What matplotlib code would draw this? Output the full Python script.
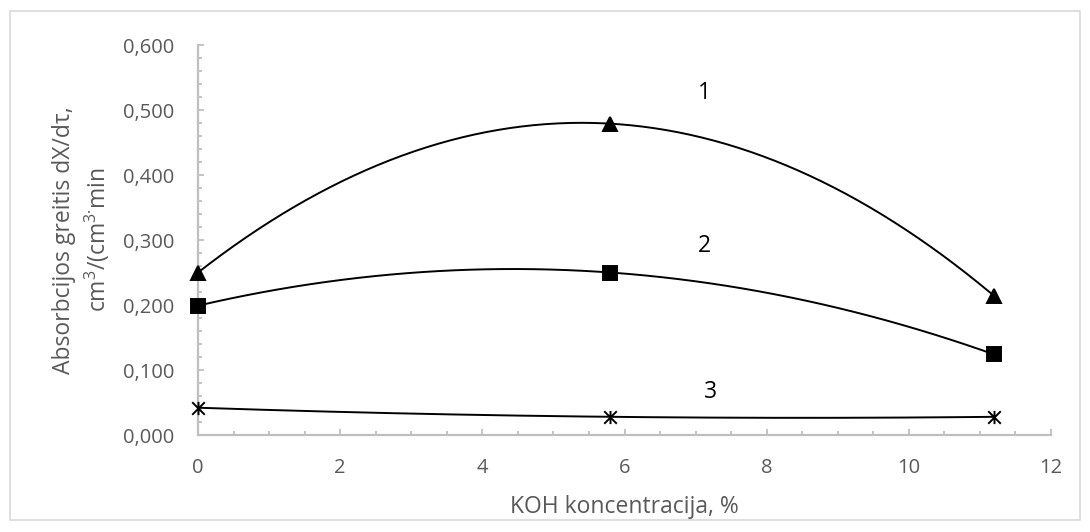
import numpy as np
import matplotlib
matplotlib.use("Agg")
import matplotlib.pyplot as plt
from matplotlib.path import Path
from matplotlib.patches import Rectangle
from matplotlib.ticker import MultipleLocator, FuncFormatter

# KOH concentration, %
koh = [0.0, 5.8, 11.2]
# absorption rate dX/dtau per curve
rate_1 = [0.250, 0.479, 0.214]
rate_2 = [0.199, 0.250, 0.124]
rate_3 = [0.042, 0.028, 0.028]
curve_names = ["1", "2", "3"]
name_pos = [(7.12, 0.526), (7.12, 0.291), (7.21, 0.066)]

GREY = "#595959"
AXIS = "#bfbfbf"
plt.rcParams["font.family"] = ["Open Sans", "DejaVu Sans"]
plt.rcParams["mathtext.fontset"] = "custom"
plt.rcParams["mathtext.rm"] = "Open Sans"
plt.rcParams["mathtext.it"] = "Open Sans"
plt.rcParams["mathtext.default"] = "rm"


def smooth(xs, ys, n=200):
    """Smoothed line through the points (interpolating polynomial)."""
    coef = np.polyfit(xs, ys, len(xs) - 1)
    sx = np.linspace(min(xs), max(xs), n)
    return sx, np.polyval(coef, sx)


# asterisk marker: X with a vertical bar
star = Path([(-1, -1), (1, 1), (-1, 1), (1, -1), (0, -1.05), (0, 1.05)],
            [Path.MOVETO, Path.LINETO, Path.MOVETO, Path.LINETO,
             Path.MOVETO, Path.LINETO])

fig = plt.figure(figsize=(10.9, 5.32), dpi=100)
fig.patches.append(Rectangle((0.009, 0.022), 0.982, 0.958, transform=fig.transFigure,
                             fill=False, edgecolor="#d9d9d9", lw=1.2))
ax = fig.add_axes([0.1817, 0.1823, 0.7825, 0.7331])

series = [(rate_1, "^", 10.5), (rate_2, "s", 10), (rate_3, star, 9.5)]
for ys, mk, ms in series:
    sx, sy = smooth(koh, ys)
    ax.plot(sx, sy, color="black", lw=1.4, zorder=3)
    ax.plot(koh, ys, ls="none", marker=mk, ms=ms, color="black",
            mec="black", mew=1.4, zorder=4, clip_on=False)

for name, (x, y) in zip(curve_names, name_pos):
    ax.text(x, y, name, fontsize=16.5, color="black", ha="center", va="center")

ax.set_xlim(0, 12)
ax.set_ylim(0, 0.6)
ax.xaxis.set_major_locator(MultipleLocator(2))
ax.xaxis.set_minor_locator(MultipleLocator(0.5))
ax.yaxis.set_major_locator(MultipleLocator(0.1))
ax.yaxis.set_minor_locator(MultipleLocator(0.02))
ax.yaxis.set_major_formatter(FuncFormatter(lambda v, _: f"{v:.3f}".replace(".", ",")))

for s in ("top", "right"):
    ax.spines[s].set_visible(False)
for s in ("left", "bottom"):
    ax.spines[s].set_color(AXIS)
    ax.spines[s].set_linewidth(1.6)

ax.tick_params(which="both", direction="in", color=AXIS, width=1.3,
               labelcolor=GREY, labelsize=14.5)
ax.tick_params(which="major", length=4.5)
ax.tick_params(which="minor", length=3.2)
ax.tick_params(axis="x", pad=16.5)
ax.tick_params(axis="y", pad=17)

ax.set_xlabel("KOH koncentracija, %", fontsize=16.5, color=GREY, labelpad=12)
ax.set_ylabel("Absorbcijos greitis dX/dτ,\n" r"cm$^3$/(cm$^{3·}$min", fontsize=16.5,
              color=GREY, labelpad=8, linespacing=1.3)

fig.savefig("out.png", dpi=100)
